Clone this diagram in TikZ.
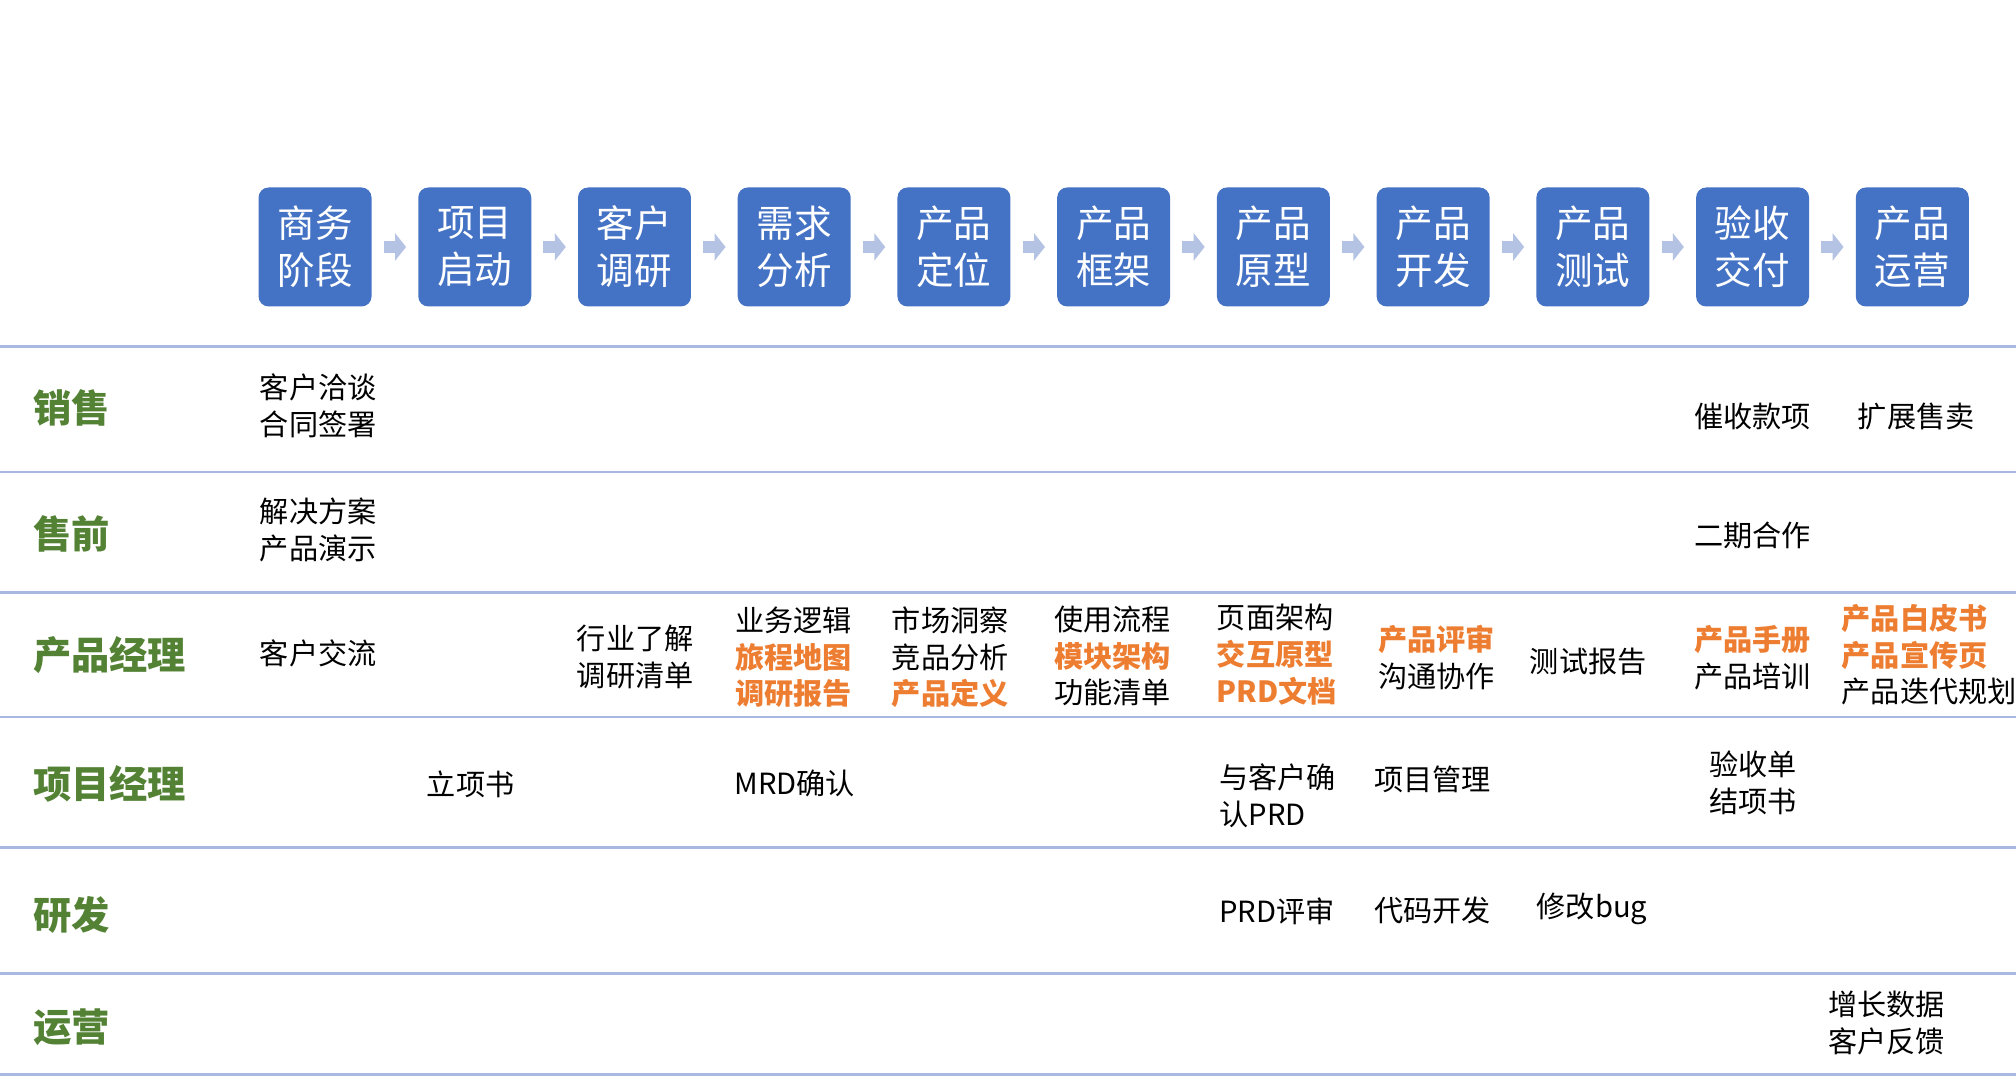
\documentclass[tikz,border=0pt]{standalone}
\usepackage{fontspec}
\setmainfont{Noto Sans CJK SC}
\usepackage{xcolor}
\usetikzlibrary{arrows.meta}
\definecolor{stageblue}{HTML}{4472C4}
\definecolor{flowgray}{HTML}{B4C3E3}
\definecolor{rulecol}{HTML}{A9B8E0}
\definecolor{rolegreen}{HTML}{548235}
\definecolor{keyorange}{HTML}{ED7D31}
\newcommand{\keytask}[1]{\textcolor{keyorange}{\bfseries #1}}

\begin{document}
\begin{tikzpicture}[x=0.012965cm,y=-0.012965cm,
	stage/.style={fill=stageblue,rounded corners=1mm,minimum width=1.13cm,minimum height=1.19cm,
		text=white,align=center,inner sep=0pt,font=\fontsize{10.7}{13.4}\selectfont},
	role/.style={anchor=west,text=rolegreen,inner sep=0pt,font=\fontsize{10.9}{13}\selectfont\bfseries},
	task/.style={align=left,inner sep=0pt,font=\fontsize{8.3}{10.5}\selectfont},
	flow/.style={-{Triangle[length=1.1mm,width=2.7mm]},line width=3.6pt,draw=flowgray,
		shorten <=1.15mm,shorten >=1.15mm}]
	\useasboundingbox (0,0) rectangle (1555,830);
	%
	\foreach \t [count=\i] in {商务\\阶段,项目\\启动,客户\\调研,需求\\分析,产品\\定位,产品\\框架,
		产品\\原型,产品\\开发,产品\\测试,验收\\交付,产品\\运营}
		\node[stage] (s\i) at ({243+(\i-1)*123.2},190.5) {\t};
	\foreach \i [evaluate=\i as \j using int(\i+1)] in {1,...,10}
		\draw[flow] (s\i) -- (s\j);
	%
	\foreach \y in {267,364,457,553,654,751,829}
		\draw[rulecol,line width=0.8pt] (0,\y) -- (1555,\y);
	%
	\node[role] (sales) at (25,315) {销售};
	\node[role] (presales) at (25,412) {售前};
	\node[role] (pm) at (25,505) {产品经理};
	\node[role] (proj) at (25,605) {项目经理};
	\node[role] (dev) at (25,706) {研发};
	\node[role] (ops) at (25,792) {运营};
	%
	\node[task,anchor=west] (sales1) at (200,313) {客户洽谈\\合同签署};
	\node[task] (sales10) at (1352,321) {催收款项};
	\node[task] (sales11) at (1478,321) {扩展售卖};
	%
	\node[task,anchor=west] (pre1) at (200,409) {解决方案\\产品演示};
	\node[task] (pre10) at (1352,413) {二期合作};
	%
	\node[task,anchor=west] (pm1) at (200,504) {客户交流};
	\node[task] (pm3) at (490,507) {行业了解\\调研清单};
	\node[task] (pm4) at (612,507) {业务逻辑\\\keytask{旅程地图}\\\keytask{调研报告}};
	\node[task] (pm5) at (733,507) {市场洞察\\竞品分析\\\keytask{产品定义}};
	\node[task] (pm6) at (858,506) {使用流程\\\keytask{模块架构}\\功能清单};
	\node[task] (pm7) at (985,505) {页面架构\\\keytask{交互原型}\\\keytask{PRD文档}};
	\node[task] (pm8) at (1108,507) {\keytask{产品评审}\\沟通协作};
	\node[task] (pm9) at (1225,510) {测试报告};
	\node[task] (pm10) at (1352,507) {\keytask{产品手册}\\产品培训};
	\node[task,anchor=west] (pm11) at (1420,505) {\keytask{产品白皮书}\\\keytask{产品宣传页}\\产品迭代规划};
	%
	\node[task] (proj2) at (363,605) {立项书};
	\node[task] (proj4) at (613,604) {MRD确认};
	\node[task,anchor=west] (proj7) at (940,614) {与客户确\\认PRD};
	\node[task] (proj8) at (1105,601) {项目管理};
	\node[task] (proj10) at (1352,604) {验收单\\结项书};
	%
	\node[task] (dev7) at (985,703) {PRD评审};
	\node[task] (dev8) at (1105,702) {代码开发};
	\node[task] (dev9) at (1228,701) {修改bug};
	%
	\node[task] (ops11) at (1455,789) {增长数据\\客户反馈};
\end{tikzpicture}
\end{document}
